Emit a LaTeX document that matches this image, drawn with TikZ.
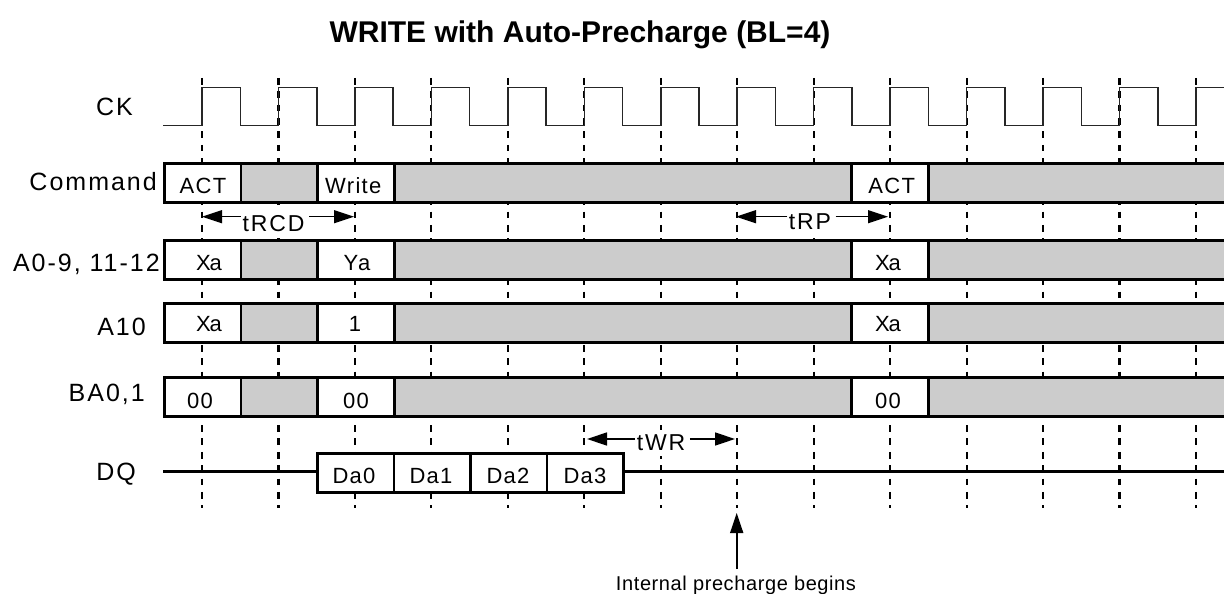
\documentclass[tikz,border=0pt]{standalone}
\usepackage{fontspec}
\usetikzlibrary{arrows.meta}
\setmainfont{Liberation Sans}
\newfontfamily\lblfont[LetterSpace=8]{Liberation Sans}
\newfontfamily\cellfont[LetterSpace=6]{Liberation Sans}
\newfontfamily\xafont[LetterSpace=-5]{Liberation Sans}
\newfontfamily\notefont[LetterSpace=3]{Liberation Sans}
\definecolor{busgray}{HTML}{CCCCCC}
\tikzset{
  sig/.style={line width=1.5pt,black!85,line join=miter},
  guide/.style={line width=2.2pt,dash pattern=on 6.7pt off 6.65pt},
  busline/.style={line width=3pt},
  sep/.style={line width=2.6pt},
  rowlabel/.style={anchor=base east,inner sep=0pt,font=\fontsize{25}{27}\selectfont\lblfont},
  celltext/.style={anchor=base,inner sep=0pt,font=\fontsize{22}{24}\selectfont\cellfont},
  celltight/.style={anchor=base,inner sep=0pt,font=\fontsize{22}{24}\selectfont\xafont},
  timing/.style={anchor=base,fill=white,inner xsep=1.5pt,inner ysep=0pt,font=\fontsize{23}{25}\selectfont\lblfont},
  span/.style={line width=1.4pt,-{Triangle[length=20pt,width=13pt]}},
}
\newcommand{\busrow}[2]{%
  \fill[white] (164,#1) rectangle (1224,#2);
  \fill[busgray] (241,#1) rectangle (317.7,#2);
  \fill[busgray] (394.3,#1) rectangle (851.7,#2);
  \fill[busgray] (928.7,#1) rectangle (1224,#2);
  \draw[busline] (163,#1) -- (1224,#1);
  \draw[busline] (163,#2) -- (1224,#2);
  \foreach \xx in {164.7,241,317.7,394.3,851.7,928.7}
    \draw[sep] (\xx,#1) -- (\xx,#2);
}
\begin{document}
\begin{tikzpicture}[x=1pt,y=-1pt]
\useasboundingbox (0,0) rectangle (1224,594);
\fill[white] (0,0) rectangle (1224,594);
% guides
\foreach \i in {0,...,13} {
  \coordinate (gt\i) at ({202+76.46*\i},78);
  \coordinate (gb\i) at ({202+76.46*\i},508);
  \draw[guide] (gt\i) -- (gb\i);
}
% clock
\draw[sig] (163,125.7)
  \foreach \i in {0,...,13} {
    -- ({202+76.46*\i},125.7) -- ({202+76.46*\i},87.3)
    -- ({240.3+76.46*\i},87.3) -- ({240.3+76.46*\i},125.7)
  } -- (1224,125.7);
% buses
\busrow{163.7}{202.3}
\busrow{240.3}{279.3}
\busrow{303.3}{342.3}
\busrow{377.3}{416.7}
% DQ
\draw[busline] (163,471.3) -- (317.3,471.3);
\draw[busline] (623.3,471.3) -- (1224,471.3);
\draw[busline,fill=white] (317.3,453.3) rectangle (623.3,492.3);
\foreach \xx in {394,470.5,547}
  \draw[sep] (\xx,453.3) -- (\xx,492.3);
% title
\node[anchor=base,inner sep=0pt,font=\fontsize{30}{33}\selectfont\bfseries] (title) at (580,43) {WRITE with Auto-Precharge (BL=4)};
% row labels
\node[rowlabel] (lck) at (133,115) {CK};
\node[rowlabel] (lcmd) at (157,190) {Command};
\node[rowlabel] (laddr) at (160,271.7) {A0-9, 11-12};
\node[rowlabel] (la10) at (146,335) {A10};
\node[rowlabel] (lba) at (145,401.7) {BA0,1};
\node[rowlabel] (ldq) at (136,480.7) {DQ};
% cell texts
\node[celltext] (c1) at (203,193) {ACT};
\node[celltext] (c2) at (353.3,193) {Write};
\node[celltext] (c3) at (891.7,193) {ACT};
\node[celltight] (a1) at (209,270) {Xa};
\node[celltext] (a2) at (357,270) {Ya};
\node[celltight] (a3) at (888,270) {Xa};
\node[celltight] (b1) at (209,331.7) {Xa};
\node[celltext] (b2) at (355,331.7) {1};
\node[celltight] (b3) at (888,331.7) {Xa};
\node[celltext] (d1) at (200,408) {00};
\node[celltext] (d2) at (356,408) {00};
\node[celltext] (d3) at (888,408) {00};
\node[celltext] (q0) at (354,483) {Da0};
\node[celltext] (q1) at (431,483) {Da1};
\node[celltext] (q2) at (508,483) {Da2};
\node[celltext] (q3) at (585,483) {Da3};
% timing spans
\coordinate (rcdl) at (202,216.7);
\coordinate (rcdr) at (354,216.7);
\coordinate (rpl) at (736,216.7);
\coordinate (rpr) at (888,216.7);
\coordinate (wrl) at (587,439);
\coordinate (wrr) at (735,439);
\node[timing,text height=27pt,text depth=6.5pt] (trcd) at (273.5,231.5) {tRCD};
\node[timing,text height=25pt,text depth=9pt] (trp) at (810,229.3) {tRP};
\node[timing,text height=21pt,text depth=5pt] (twr) at (661,450.7) {tWR};
\draw[span] (trcd.west |- rcdl) -- (rcdl);
\draw[span] ([xshift=3pt]trcd.east |- rcdr) -- (rcdr);
\draw[span] (trp.west |- rpl) -- (rpl);
\draw[span] ([xshift=3pt]trp.east |- rpr) -- (rpr);
\draw[span] (twr.west |- wrl) -- (wrl);
\draw[span] ([xshift=3pt]twr.east |- wrr) -- (wrr);
% internal precharge
\node[anchor=base,inner sep=0pt,font=\fontsize{20}{22}\selectfont\notefont] (ip) at (736,590) {Internal precharge begins};
\coordinate (iptip) at (736.7,513);
\draw[line width=1.6pt,-{Triangle[length=20pt,width=13pt]}] (736.7,569) -- (iptip);
\end{tikzpicture}
\end{document}
